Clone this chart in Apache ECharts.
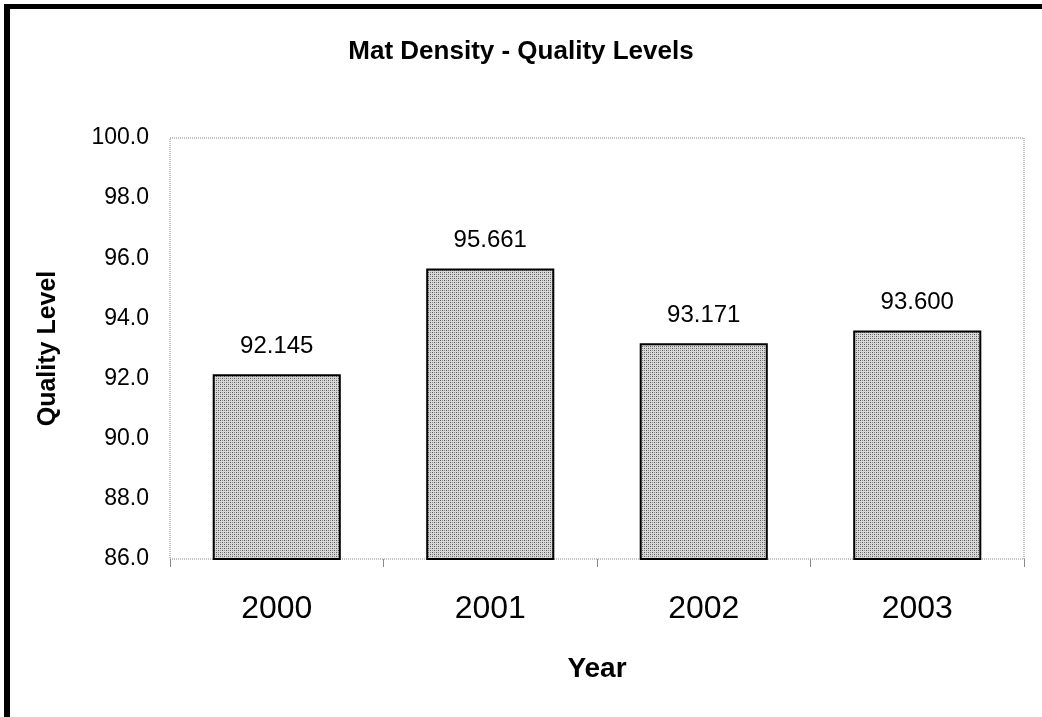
<!DOCTYPE html>
<html>
<head>
<meta charset="utf-8">
<script src="https://cdn.jsdelivr.net/npm/echarts@6/dist/echarts.min.js"></script>
<style>
  html, body { margin: 0; padding: 0; background: #fff; }
  #frame {
    position: absolute; left: 4px; top: 4px; right: 0; bottom: 0;
    border-left: 6px solid #000; border-top: 5px solid #000;
  }
  #chart { position: absolute; left: 0; top: 0; width: 1042px; height: 717px; }
</style>
</head>
<body>
<div id="frame"></div>
<div id="chart"></div>
<script>
var years = ['2000', '2001', '2002', '2003'];
var quality = [92.145, 95.661, 93.171, 93.600];

// dithered gray fill, like the old spreadsheet pattern
function makePattern() {
  var c = document.createElement('canvas');
  c.width = 4; c.height = 4;
  var ctx = c.getContext('2d');
  ctx.fillStyle = '#d8d8d8';
  ctx.fillRect(0, 0, 4, 4);
  ctx.fillStyle = '#5a5a5a';
  ctx.fillRect(0, 0, 1, 1);
  ctx.fillRect(2, 2, 1, 1);
  ctx.fillStyle = '#8c8c8c';
  ctx.fillRect(2, 0, 1, 1);
  ctx.fillRect(0, 2, 1, 1);
  return c;
}

var chart = echarts.init(document.getElementById('chart'));

var option = {
  backgroundColor: 'transparent',
  animation: false,
  title: {
    text: 'Mat Density - Quality Levels',
    left: 'center',
    top: 34,
    textStyle: {
      fontFamily: 'Liberation Sans, Arial',
      fontSize: 26,
      fontWeight: 'bold',
      color: '#000'
    }
  },
  grid: {
    left: 170,
    top: 138,
    right: 18,
    bottom: 158,
    show: true,
    borderColor: '#888',
    borderWidth: 1,
    borderType: 'dotted'
  },
  xAxis: {
    type: 'category',
    data: years,
    name: 'Year',
    nameLocation: 'middle',
    nameGap: 96,
    nameTextStyle: {
      fontFamily: 'Liberation Sans, Arial',
      fontSize: 28,
      fontWeight: 'bold',
      color: '#000'
    },
    axisLine: { show: false },
    axisTick: {
      show: true,
      length: 8,
      lineStyle: { color: '#888' }
    },
    axisLabel: {
      margin: 34,
      fontFamily: 'Liberation Sans, Arial',
      fontSize: 32,
      color: '#000'
    }
  },
  yAxis: {
    type: 'value',
    min: 86,
    max: 100,
    interval: 2,
    name: 'Quality Level',
    nameLocation: 'middle',
    nameGap: 109,
    nameRotate: 90,
    nameTextStyle: {
      fontFamily: 'Liberation Sans, Arial',
      fontSize: 25,
      fontWeight: 'bold',
      color: '#000'
    },
    axisLine: { show: false },
    axisTick: { show: false },
    splitLine: { show: false },
    axisLabel: {
      margin: 21,
      fontFamily: 'Liberation Sans, Arial',
      fontSize: 23,
      color: '#000',
      formatter: function (v) { return v.toFixed(1); }
    }
  },
  series: [{
    type: 'bar',
    data: quality,
    barCategoryGap: '40%',
    itemStyle: {
      color: { image: makePattern(), repeat: 'repeat' },
      borderColor: '#000',
      borderWidth: 2
    },
    label: {
      show: true,
      position: 'top',
      distance: 16,
      fontFamily: 'Liberation Sans, Arial',
      fontSize: 24,
      color: '#000',
      formatter: function (p) { return p.value.toFixed(3); }
    }
  }]
};

chart.setOption(option);
</script>
</body>
</html>
